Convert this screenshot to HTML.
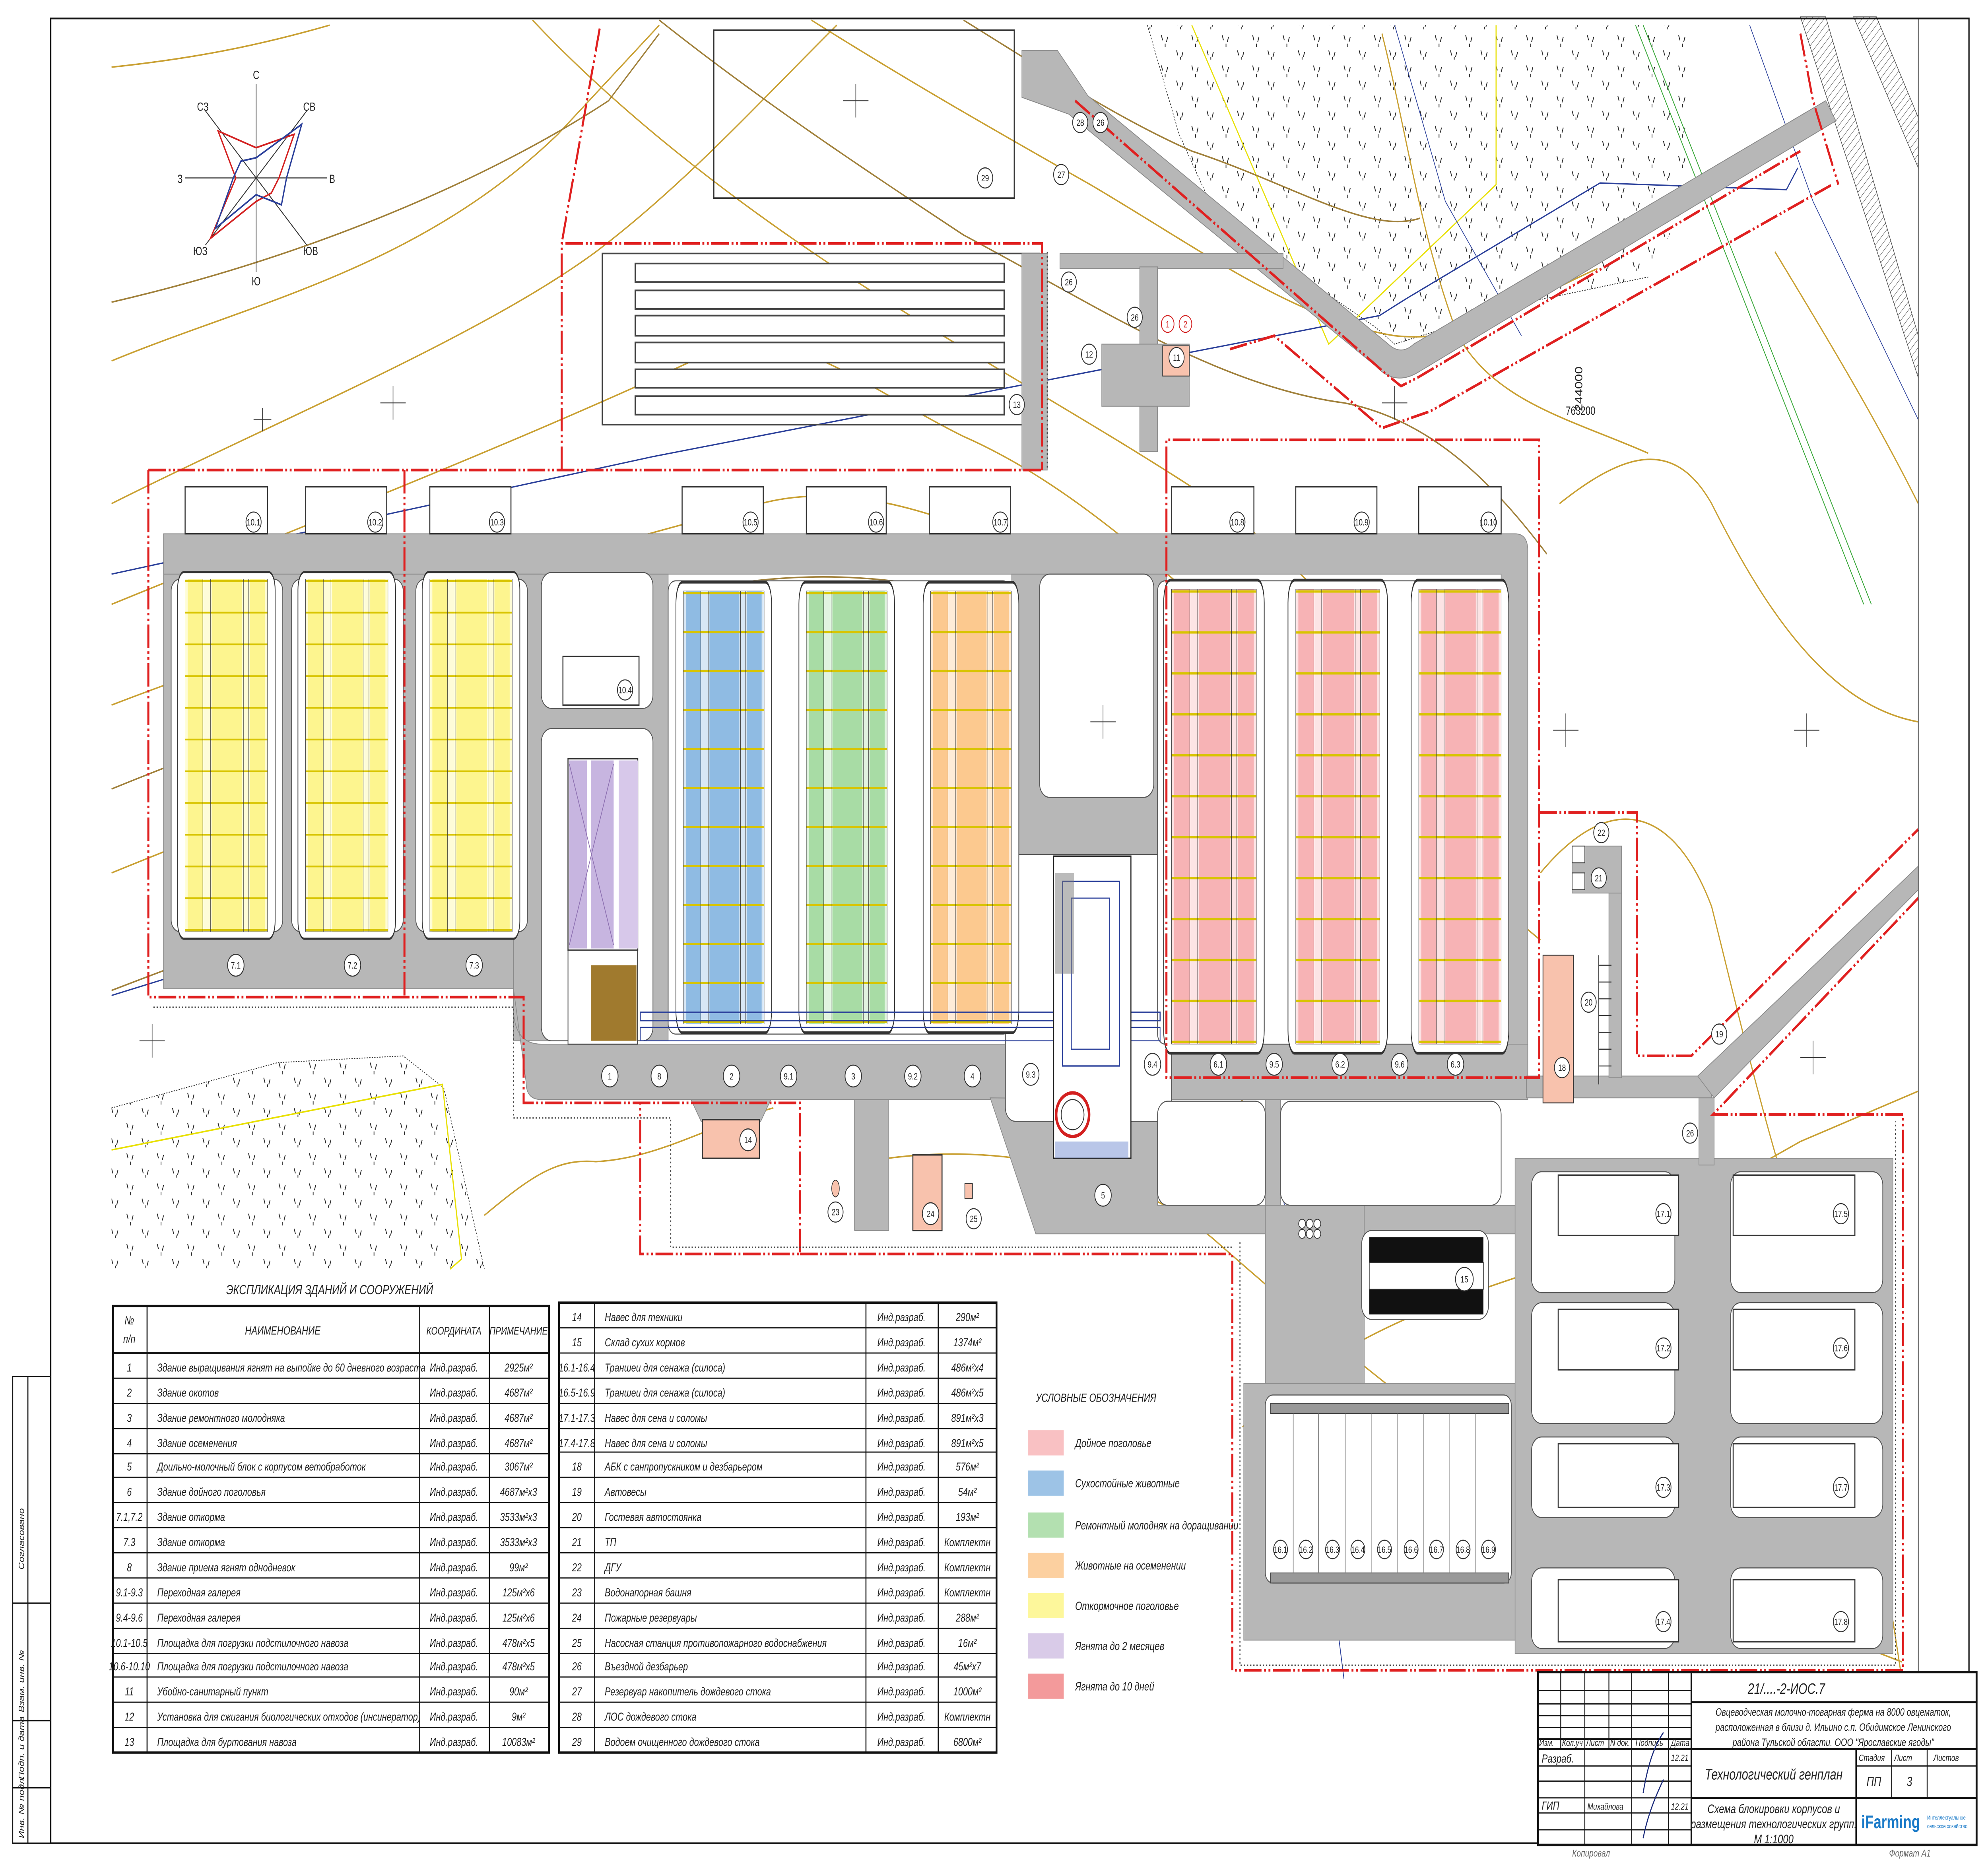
<!DOCTYPE html>
<html><head><meta charset="utf-8"><style>
html,body{margin:0;padding:0;background:#fff;overflow:hidden;width:100vw;height:100vh}
svg{display:block;position:absolute;left:0;top:0;width:100vw;height:100vh;overflow:hidden}
text{font-family:"Liberation Sans Narrow","Liberation Sans",sans-serif;fill:#222}
.t{font-size:7px;font-style:italic}
.c{font-size:5.5px;text-anchor:middle}
</style></head><body>
<svg xmlns="http://www.w3.org/2000/svg" viewBox="0 0 1568 1108" preserveAspectRatio="none">
<defs>
<pattern id="hl" width="10" height="9" patternUnits="userSpaceOnUse"><line x1="0" y1="0.5" x2="10" y2="0.5" stroke="#d8c400" stroke-width="0.5"/></pattern>
<pattern id="tree" width="24" height="18" patternUnits="userSpaceOnUse">
<path d="M4 3 l1 3 M9 4 l-1 3 M7 8 v2 M16 12 l1 3 M21 13 l-1 3 M19 16 v1.5" stroke="#222" stroke-width="0.6" fill="none"/></pattern>
<pattern id="hatch" width="5" height="5" patternUnits="userSpaceOnUse"><path d="M0 5 L5 0" stroke="#555" stroke-width="0.3"/></pattern>
<g id="bld">
<rect x="-6" y="-2" width="77" height="104" rx="5" fill="#fff" stroke="#333" stroke-width="0.6"/>
<rect x="0" y="0" width="65" height="100" fill="currentColor" opacity="0.35"/>
<rect x="2" y="0" width="12" height="100" fill="currentColor"/>
<rect x="21" y="0" width="24" height="100" fill="currentColor"/>
<rect x="51" y="0" width="12" height="100" fill="currentColor"/>
<rect x="0" y="0" width="65" height="100" fill="url(#hl)"/>
<g stroke="#333" stroke-width="0.9">
<line x1="0" y1="0" x2="0" y2="100" vector-effect="non-scaling-stroke"/><line x1="14" y1="0" x2="14" y2="100" vector-effect="non-scaling-stroke"/><line x1="20" y1="0" x2="20" y2="100" vector-effect="non-scaling-stroke"/><line x1="46" y1="0" x2="46" y2="100" vector-effect="non-scaling-stroke"/><line x1="50" y1="0" x2="50" y2="100" vector-effect="non-scaling-stroke"/><line x1="65" y1="0" x2="65" y2="100" vector-effect="non-scaling-stroke"/>
<line x1="0" y1="0" x2="65" y2="0" vector-effect="non-scaling-stroke"/><line x1="0" y1="100" x2="65" y2="100" vector-effect="non-scaling-stroke"/>
</g>
</g>
</defs>

<rect width="1568" height="1108" fill="#fff"/>

<!-- tree areas -->
<polygon points="905,15 1330,15 1330,120 1300,165 1205,180 1100,205 1085,195 960,130 930,80" fill="url(#tree)"/>
<polyline points="905,15 930,80 960,130 1085,195 1100,205 1205,180 1300,165" fill="none" stroke="#333" stroke-width="0.5" stroke-dasharray="1,1"/>
<polyline points="940,15 1048,205 1180,110 1180,15" fill="none" stroke="#e8e000" stroke-width="0.8"/>
<polygon points="88,660 219,633 318,629 350,648 382,756 88,756" fill="url(#tree)"/>
<polyline points="88,660 219,633 318,629 350,648 382,756" fill="none" stroke="#333" stroke-width="0.5" stroke-dasharray="1,1"/>
<polyline points="88,685 349,646 364,750 355,756" fill="none" stroke="#e8e000" stroke-width="0.9"/>

<!-- contours -->
<g fill="none" stroke="#c9a032" stroke-width="0.9">
<path d="M88,215 C200,180 330,160 440,80 L520,15"/>
<path d="M88,300 C220,250 380,200 470,150 C540,110 600,60 660,15"/>
<path d="M88,360 C250,310 420,260 560,210 C620,190 680,230 760,260 C880,300 960,380 1060,420"/>
<path d="M88,420 C260,370 450,330 600,300 C700,280 820,330 930,380 C1050,440 1150,520 1215,560"/>
<path d="M88,520 C250,470 430,420 600,380 C700,360 800,380 900,430 C1000,480 1100,560 1190,640"/>
<path d="M420,12 C480,60 560,110 660,160 C760,210 860,250 960,300 C1050,350 1120,420 1190,480"/>
<path d="M640,12 C720,50 790,80 860,110 C950,150 1020,190 1100,200 C1160,205 1200,180 1260,160"/>
<path d="M1230,300 C1280,270 1320,260 1350,300 C1390,360 1440,420 1513,430"/>
<path d="M1215,520 C1270,470 1320,480 1350,540 C1370,600 1400,700 1440,780 C1470,850 1490,950 1500,1000"/>
<path d="M980,850 C1050,800 1120,780 1200,760 C1280,740 1350,710 1420,680 L1513,650"/>
<path d="M700,690 C800,680 900,700 960,740 C1050,800 1150,860 1230,900 C1300,940 1400,960 1500,990"/>
<path d="M1090,20 C1110,80 1120,140 1150,200 C1180,240 1240,250 1300,270"/>
<path d="M382,724 C420,700 440,690 470,692 C520,690 560,670 610,660"/>
<path d="M88,40 C150,35 200,28 260,15"/>
<path d="M1400,150 C1440,200 1480,250 1513,300"/>
</g>
<g fill="none" stroke="#a0803a" stroke-width="0.9">
<path d="M88,180 C260,150 400,100 480,60 L520,20"/>
<path d="M88,470 C250,420 420,380 560,350 C700,330 820,360 920,400 C1020,450 1120,500 1200,600"/>
<path d="M88,590 C260,540 420,500 540,470 C650,450 760,470 830,520 C900,560 960,620 1010,700"/>
<path d="M520,12 C600,60 680,100 760,140 C860,180 960,230 1060,240 C1130,250 1180,290 1220,330"/>
<path d="M760,12 C820,40 880,70 940,90 C1020,110 1080,140 1120,130"/>
<path d="M1000,870 C1080,840 1140,820 1200,830 C1260,840 1320,820 1380,790"/>
</g>
<!-- blue lines -->
<polyline points="88,342 515,272 1088,188 1109,178 1262,109 1409,113 1418,100" fill="none" stroke="#2a3f9a" stroke-width="0.8"/>
<polyline points="88,593 400,520 797,485 990,445" fill="none" stroke="#2a3f9a" stroke-width="0.8"/>
<polyline points="984,455 1000,620 1010,700 1060,1000" fill="none" stroke="#2a3f9a" stroke-width="0.6"/>
<polyline points="1100,15 1140,120 1200,200" fill="none" stroke="#2a3f9a" stroke-width="0.5"/>
<polyline points="1380,15 1430,120 1513,250" fill="none" stroke="#2a3f9a" stroke-width="0.5"/>
<g stroke="#3aa83a" stroke-width="0.6"><line x1="1290" y1="15" x2="1470" y2="360"/><line x1="1296" y1="15" x2="1476" y2="360"/></g>

<!-- top-right railway band -->
<polygon points="1420,10 1440,10 1513,200 1513,225" fill="url(#hatch)" stroke="#444" stroke-width="0.4"/>
<polygon points="1462,10 1480,10 1513,70 1513,100" fill="url(#hatch)" stroke="#444" stroke-width="0.4"/>

<!-- 29 pond & 13 pile -->
<rect x="563" y="18" width="237" height="100" fill="none" stroke="#333" stroke-width="0.9"/>
<rect x="475" y="151" width="345" height="102" fill="none" stroke="#444" stroke-width="0.9"/>
<g fill="#fff" stroke="#444" stroke-width="1">
<rect x="501" y="157" width="291" height="11"/><rect x="501" y="173" width="291" height="11"/><rect x="501" y="188" width="291" height="12"/><rect x="501" y="204" width="291" height="12"/><rect x="501" y="220" width="291" height="11"/><rect x="501" y="236" width="291" height="11"/>
</g>

<!-- roads (gray) -->
<g fill="#b7b7b7" stroke="#8a8a8a" stroke-width="0.5">
<path d="M806,30 L834,30 L858,57 L1095,205 Q1105,212 1115,205 L1440,60 L1448,72 L1118,222 Q1100,230 1085,218 L843,68 L806,58 Z"/>
<rect x="836" y="151" width="176" height="9"/>
<rect x="806" y="151" width="20" height="129"/>
<rect x="899" y="159" width="14" height="110"/>
<rect x="869" y="205" width="69" height="37"/>
<path d="M129,318 L1195,318 Q1205,318 1205,328 L1205,655 L1184,655 L1184,342 L129,342 Z"/>
<rect x="129" y="342" width="298" height="247"/>
<rect x="405" y="342" width="122" height="278"/>
<path d="M405,589 L405,600 Q405,622 427,622 L1205,622 L1205,655 L427,655 Q415,655 415,645 Z"/>
<rect x="798" y="342" width="122" height="170"/>
<path d="M781,654 L817,735 L1200,735 L1200,718 L913,718 L913,655 Z"/>
<rect x="998" y="655" width="12" height="65"/>
<rect x="998" y="718" width="78" height="110"/>
<path d="M545,655 L608,655 L600,668 L553,668 Z"/>
<rect x="674" y="655" width="27" height="78"/>
<rect x="981" y="824" width="245" height="153"/>
<rect x="1195" y="690" width="298" height="295"/>
<rect x="1204" y="641" width="146" height="13"/>
<path d="M1339,641 L1513,516 L1513,530 L1352,654 Z"/>
<rect x="1340" y="654" width="12" height="40"/>
<rect x="1240" y="504" width="39" height="28"/>
<rect x="1269" y="532" width="10" height="110"/>
</g>
<!-- white holes -->
<g fill="#fff" stroke="#555" stroke-width="0.6">
<rect x="135" y="345" width="88" height="210" rx="7"/>
<rect x="230" y="345" width="88" height="210" rx="7"/>
<rect x="328" y="345" width="88" height="210" rx="7"/>
<rect x="427" y="341" width="88" height="81" rx="8"/>
<rect x="427" y="434" width="88" height="186" rx="8"/>
<rect x="527" y="346" width="270" height="270" rx="6"/>
<rect x="820" y="342" width="90" height="133" rx="8"/>
<rect x="793" y="509" width="131" height="159" rx="8"/>
<rect x="913" y="346" width="271" height="276" rx="6"/>
<rect x="913" y="656" width="85" height="62" rx="8"/>
<rect x="1010" y="656" width="174" height="62" rx="8"/>
<rect x="998" y="831" width="194" height="112" rx="6"/>
<rect x="1208" y="698" width="113" height="72" rx="8"/>
<rect x="1365" y="698" width="120" height="72" rx="8"/>
<rect x="1208" y="776" width="113" height="72" rx="8"/>
<rect x="1365" y="776" width="120" height="72" rx="8"/>
<rect x="1208" y="856" width="113" height="48" rx="8"/>
<rect x="1365" y="856" width="120" height="48" rx="8"/>
<rect x="1208" y="934" width="113" height="48" rx="8"/>
<rect x="1365" y="934" width="120" height="48" rx="8"/>
<rect x="1074" y="733" width="100" height="53" rx="8"/>
</g>

<!-- manure pads -->
<g fill="#fff" stroke="#333" stroke-width="0.8">
<rect x="146" y="290" width="65" height="28"/><rect x="241" y="290" width="64" height="28"/><rect x="339" y="290" width="64" height="28"/>
<rect x="538" y="290" width="64" height="28"/><rect x="636" y="290" width="63" height="28"/><rect x="733" y="290" width="64" height="28"/>
<rect x="924" y="290" width="65" height="28"/><rect x="1022" y="290" width="64" height="28"/><rect x="1119" y="290" width="65" height="28"/>
<rect x="444" y="391" width="60" height="29"/>
</g>

<!-- long buildings -->
<use href="#bld" transform="translate(146,345) scale(1,2.1)" style="color:#fdf58f"/>
<use href="#bld" transform="translate(241,345) scale(1,2.1)" style="color:#fdf58f"/>
<use href="#bld" transform="translate(339,345) scale(1,2.1)" style="color:#fdf58f"/>
<use href="#bld" transform="translate(539,352) scale(0.98,2.58)" style="color:#8fbbe3"/>
<use href="#bld" transform="translate(636,352) scale(0.98,2.58)" style="color:#a8dca5"/>
<use href="#bld" transform="translate(734,352) scale(0.98,2.58)" style="color:#fcc98f"/>
<use href="#bld" transform="translate(924,351) scale(1.03,2.71)" style="color:#f7b3b5"/>
<use href="#bld" transform="translate(1022,351) scale(1.02,2.71)" style="color:#f7b3b5"/>
<use href="#bld" transform="translate(1119,351) scale(1.0,2.71)" style="color:#f7b3b5"/>
<!-- building 1 (lambs) -->
<rect x="448" y="452" width="55" height="114" fill="#fff" stroke="#333" stroke-width="0.8"/>
<rect x="449" y="453" width="14" height="112" fill="#c7b5e0"/><rect x="466" y="453" width="18" height="112" fill="#c7b5e0"/><rect x="488" y="453" width="15" height="112" fill="#d7c8ea"/>
<path d="M449,455 L484,563 M484,455 L449,563" stroke="#8c6fb0" stroke-width="0.5"/>
<rect x="448" y="566" width="55" height="56" fill="#fff" stroke="#333" stroke-width="0.6"/>
<rect x="466" y="575" width="36" height="45" fill="#a07a2e"/>
<!-- bottom blue ribbon -->
<rect x="505" y="603" width="410" height="5" fill="none" stroke="#2a3f9a" stroke-width="0.8"/>
<rect x="505" y="612" width="410" height="8" fill="none" stroke="#2a3f9a" stroke-width="0.6"/>
<!-- block 5 -->
<rect x="831" y="510" width="61" height="180" fill="#fff" stroke="#222" stroke-width="0.8"/>
<rect x="838" y="525" width="45" height="110" fill="none" stroke="#2a3f9a" stroke-width="0.8"/>
<rect x="845" y="535" width="30" height="90" fill="none" stroke="#2a3f9a" stroke-width="0.6"/>
<rect x="832" y="520" width="15" height="60" fill="#777" opacity="0.5"/>
<circle cx="846" cy="664" r="13" fill="#fff" stroke="#d32020" stroke-width="2"/>
<circle cx="846" cy="664" r="9" fill="none" stroke="#333" stroke-width="0.6"/>
<rect x="832" y="680" width="58" height="10" fill="#8aa0d8" opacity="0.6"/>

<!-- small objects -->
<rect x="917" y="206" width="21" height="18" fill="#f8c2ad" stroke="#333" stroke-width="0.5"/>
<rect x="554" y="667" width="45" height="23" fill="#f8c2ad" stroke="#333" stroke-width="0.8"/>
<rect x="720" y="688" width="23" height="45" fill="#f8c2ad" stroke="#333" stroke-width="0.8"/>
<ellipse cx="659" cy="708" rx="3" ry="5" fill="#f8c2ad" stroke="#333" stroke-width="0.5"/>
<rect x="761" y="705" width="6" height="9" fill="#f8c2ad" stroke="#333" stroke-width="0.5"/>
<rect x="1217" y="569" width="24" height="88" fill="#f8c2ad" stroke="#333" stroke-width="0.6"/>
<g stroke="#333" stroke-width="0.6"><line x1="1261" y1="575" x2="1271" y2="575"/><line x1="1261" y1="585" x2="1271" y2="585"/><line x1="1261" y1="595" x2="1271" y2="595"/><line x1="1261" y1="605" x2="1271" y2="605"/><line x1="1261" y1="615" x2="1271" y2="615"/><line x1="1261" y1="625" x2="1271" y2="625"/><line x1="1261" y1="635" x2="1271" y2="635"/><line x1="1261" y1="569" x2="1261" y2="646"/></g>
<rect x="1240" y="504" width="10" height="10" fill="#fff" stroke="#333" stroke-width="0.5"/><rect x="1240" y="520" width="10" height="10" fill="#fff" stroke="#333" stroke-width="0.5"/>
<!-- 15 -->
<rect x="1080" y="737" width="90" height="15" fill="#111"/>
<rect x="1080" y="768" width="90" height="15" fill="#111"/>
<rect x="1080" y="752" width="90" height="16" fill="#fff" stroke="#333" stroke-width="0.5"/>
<g fill="#fff" stroke="#333" stroke-width="0.5"><circle cx="1027" cy="729" r="2.7"/><circle cx="1033" cy="729" r="2.7"/><circle cx="1039" cy="729" r="2.7"/><circle cx="1027" cy="735" r="2.7"/><circle cx="1033" cy="735" r="2.7"/><circle cx="1039" cy="735" r="2.7"/></g>
<!-- silo trenches -->
<rect x="1002" y="836" width="188" height="6" fill="#999" stroke="#444" stroke-width="0.5"/>
<rect x="1002" y="937" width="188" height="6" fill="#999" stroke="#444" stroke-width="0.5"/>
<g stroke="#777" stroke-width="0.5"><line x1="1020" y1="842" x2="1020" y2="937"/><line x1="1040" y1="842" x2="1040" y2="937"/><line x1="1061" y1="842" x2="1061" y2="937"/><line x1="1082" y1="842" x2="1082" y2="937"/><line x1="1102" y1="842" x2="1102" y2="937"/><line x1="1123" y1="842" x2="1123" y2="937"/><line x1="1143" y1="842" x2="1143" y2="937"/><line x1="1164" y1="842" x2="1164" y2="937"/></g>
<!-- hay sheds -->
<g fill="#fff" stroke="#333" stroke-width="0.8">
<rect x="1229" y="700" width="95" height="36"/><rect x="1367" y="700" width="96" height="36"/>
<rect x="1229" y="780" width="95" height="36"/><rect x="1367" y="780" width="96" height="36"/>
<rect x="1229" y="860" width="95" height="38"/><rect x="1367" y="860" width="96" height="38"/>
<rect x="1229" y="941" width="95" height="37"/><rect x="1367" y="941" width="96" height="37"/>
</g>

<!-- red boundaries -->
<g fill="none" stroke="#e02020" stroke-width="1.6" stroke-dasharray="14,2,1.5,2,1.5,2">
<polyline points="443,280 443,145 822,145 822,280"/>
<polyline points="117,280 822,280"/>
<polyline points="117,280 117,594 413,594 413,657 631,657 631,747 505,747 505,657"/>
<polyline points="319,280 319,594"/>
<polyline points="920,280 920,262 1214,262 1214,642 920,642 920,280"/>
<polyline points="631,747 972,747 972,995 1501,995 1501,664 1351,664 1513,535"/>
<polyline points="1214,484 1291,484 1291,629 1334,629 1513,494"/>
<polyline points="473,17 443,145"/>
<polyline points="848,60 1092,222 1105,230 1118,225 1420,90"/>
<polyline points="970,208 1005,200 1090,255 1128,245 1445,110"/>
<polyline points="1420,20 1430,60 1450,110"/>
</g>
<g fill="none" stroke="#444" stroke-width="0.8" stroke-dasharray="1,1.5">
<polyline points="121,600 405,600 405,666 529,666 529,743 972,743"/>
<polyline points="978,740 978,992 1495,992 1495,668"/>
<polyline points="826,150 826,280"/>
</g>

<!-- circle labels -->
<g fill="#fff" stroke="#333" stroke-width="0.6">
<circle cx="200" cy="311" r="6"/><circle cx="296" cy="311" r="6"/><circle cx="392" cy="311" r="6"/><circle cx="592" cy="311" r="6"/><circle cx="691" cy="311" r="6"/><circle cx="789" cy="311" r="6"/><circle cx="976" cy="311" r="6"/><circle cx="1074" cy="311" r="6"/><circle cx="1174" cy="311" r="6"/><circle cx="493" cy="411" r="6"/>
<circle cx="186" cy="575" r="6.5"/><circle cx="278" cy="575" r="6.5"/><circle cx="374" cy="575" r="6.5"/>
<circle cx="481" cy="641" r="6.5"/><circle cx="520" cy="641" r="6.5"/><circle cx="577" cy="641" r="6.5"/><circle cx="622" cy="641" r="6.5"/><circle cx="673" cy="641" r="6.5"/><circle cx="720" cy="641" r="6.5"/><circle cx="767" cy="641" r="6.5"/>
<circle cx="813" cy="640" r="6.5"/><circle cx="909" cy="634" r="6.5"/><circle cx="961" cy="634" r="6.5"/><circle cx="1005" cy="634" r="6.5"/><circle cx="1057" cy="634" r="6.5"/><circle cx="1104" cy="634" r="6.5"/><circle cx="1148" cy="634" r="6.5"/>
<circle cx="870" cy="712" r="6.5"/><circle cx="590" cy="679" r="6.5"/><circle cx="659" cy="722" r="6"/><circle cx="734" cy="723" r="6.5"/><circle cx="768" cy="726" r="6"/><circle cx="1155" cy="762" r="7"/>
<circle cx="1263" cy="496" r="6"/><circle cx="1261" cy="523" r="6"/><circle cx="1253" cy="597" r="6"/><circle cx="1232" cy="636" r="6"/><circle cx="1333" cy="675" r="6"/><circle cx="1356" cy="616" r="6"/>
<circle cx="777" cy="106" r="6"/><circle cx="837" cy="104" r="6"/><circle cx="852" cy="73" r="6"/><circle cx="868" cy="73" r="6"/><circle cx="843" cy="168" r="6"/><circle cx="895" cy="189" r="6"/><circle cx="859" cy="211" r="6"/><circle cx="802" cy="241" r="6"/><circle cx="928" cy="213" r="6"/>
<circle cx="1010" cy="923" r="5.5"/><circle cx="1030" cy="923" r="5.5"/><circle cx="1051" cy="923" r="5.5"/><circle cx="1071" cy="923" r="5.5"/><circle cx="1092" cy="923" r="5.5"/><circle cx="1113" cy="923" r="5.5"/><circle cx="1133" cy="923" r="5.5"/><circle cx="1154" cy="923" r="5.5"/><circle cx="1174" cy="923" r="5.5"/>
<circle cx="1312" cy="723" r="6"/><circle cx="1452" cy="723" r="6"/><circle cx="1312" cy="803" r="6"/><circle cx="1452" cy="803" r="6"/><circle cx="1312" cy="886" r="6"/><circle cx="1452" cy="886" r="6"/><circle cx="1312" cy="966" r="6"/><circle cx="1452" cy="966" r="6"/>
</g>
<circle cx="921" cy="193" r="5" fill="none" stroke="#d32020" stroke-width="0.6"/><circle cx="935" cy="193" r="5" fill="none" stroke="#d32020" stroke-width="0.6"/>
<g class="c">
<text x="200" y="313" class="c">10.1</text><text x="296" y="313" class="c">10.2</text><text x="392" y="313" class="c">10.3</text><text x="592" y="313" class="c">10.5</text><text x="691" y="313" class="c">10.6</text><text x="789" y="313" class="c">10.7</text><text x="976" y="313" class="c">10.8</text><text x="1074" y="313" class="c">10.9</text><text x="1174" y="313" class="c">10.10</text><text x="493" y="413" class="c">10.4</text>
<text x="186" y="577" class="c">7.1</text><text x="278" y="577" class="c">7.2</text><text x="374" y="577" class="c">7.3</text>
<text x="481" y="643" class="c">1</text><text x="520" y="643" class="c">8</text><text x="577" y="643" class="c">2</text><text x="622" y="643" class="c">9.1</text><text x="673" y="643" class="c">3</text><text x="720" y="643" class="c">9.2</text><text x="767" y="643" class="c">4</text>
<text x="813" y="642" class="c">9.3</text><text x="909" y="636" class="c">9.4</text><text x="961" y="636" class="c">6.1</text><text x="1005" y="636" class="c">9.5</text><text x="1057" y="636" class="c">6.2</text><text x="1104" y="636" class="c">9.6</text><text x="1148" y="636" class="c">6.3</text>
<text x="870" y="714" class="c">5</text><text x="590" y="681" class="c">14</text><text x="659" y="724" class="c">23</text><text x="734" y="725" class="c">24</text><text x="768" y="728" class="c">25</text><text x="1155" y="764" class="c">15</text>
<text x="1263" y="498" class="c">22</text><text x="1261" y="525" class="c">21</text><text x="1253" y="599" class="c">20</text><text x="1232" y="638" class="c">18</text><text x="1333" y="677" class="c">26</text><text x="1356" y="618" class="c">19</text>
<text x="777" y="108" class="c">29</text><text x="837" y="106" class="c">27</text><text x="852" y="75" class="c">28</text><text x="868" y="75" class="c">26</text><text x="843" y="170" class="c">26</text><text x="895" y="191" class="c">26</text><text x="859" y="213" class="c">12</text><text x="802" y="243" class="c">13</text><text x="928" y="215" class="c">11</text><text x="921" y="195" class="c" style="fill:#d32020">1</text><text x="935" y="195" class="c" style="fill:#d32020">2</text>
<text x="1010" y="925" class="c">16.1</text><text x="1030" y="925" class="c">16.2</text><text x="1051" y="925" class="c">16.3</text><text x="1071" y="925" class="c">16.4</text><text x="1092" y="925" class="c">16.5</text><text x="1113" y="925" class="c">16.6</text><text x="1133" y="925" class="c">16.7</text><text x="1154" y="925" class="c">16.8</text><text x="1174" y="925" class="c">16.9</text>
<text x="1312" y="725" class="c">17.1</text><text x="1452" y="725" class="c">17.5</text><text x="1312" y="805" class="c">17.2</text><text x="1452" y="805" class="c">17.6</text><text x="1312" y="888" class="c">17.3</text><text x="1452" y="888" class="c">17.7</text><text x="1312" y="968" class="c">17.4</text><text x="1452" y="968" class="c">17.8</text>
</g>
<text x="1248" y="245" style="font-size:8px" transform="rotate(-90 1248 245)">244000</text>
<text x="1235" y="247" style="font-size:7px">763200</text>
<!-- survey crosses -->
<g stroke="#333" stroke-width="0.5">
<path d="M110,620 h20 M120,610 v20 M300,240 h20 M310,230 v20 M860,430 h20 M870,420 v20 M1225,435 h20 M1235,425 v20 M1415,435 h20 M1425,425 v20 M1420,630 h20 M1430,620 v20 M1090,240 h20 M1100,230 v20 M665,60 h20 M675,50 v20 M200,250 h14 M207,243 v14"/>
</g>

<!-- compass -->
<g stroke="#333" stroke-width="0.6" fill="none">
<line x1="202" y1="50" x2="202" y2="162"/><line x1="146" y1="106" x2="258" y2="106"/><line x1="162" y1="66" x2="242" y2="146"/><line x1="242" y1="66" x2="162" y2="146"/>
</g>
<polygon points="202,88 232,80 220,106 214,115 202,120 166,142 186,106 172,78" fill="none" stroke="#d32020" stroke-width="1"/>
<polygon points="202,94 238,74 226,106 222,122 202,116 170,136 184,106 190,96" fill="none" stroke="#2a3f9a" stroke-width="1"/>
<g style="font-size:7px" text-anchor="middle"><text x="202" y="47">С</text><text x="244" y="66">СВ</text><text x="262" y="109">В</text><text x="245" y="152">ЮВ</text><text x="202" y="170">Ю</text><text x="158" y="152">ЮЗ</text><text x="142" y="109">З</text><text x="160" y="66">СЗ</text></g>

<!-- frame -->
<rect x="40" y="11" width="1513" height="1087" fill="none" stroke="#111" stroke-width="1"/>
<line x1="1513" y1="11" x2="1513" y2="996" stroke="#111" stroke-width="0.5"/>
<g stroke="#111" stroke-width="0.8" fill="none">
<rect x="10" y="820" width="30" height="278"/><line x1="22" y1="820" x2="22" y2="1098"/>
<line x1="10" y1="955" x2="40" y2="955"/><line x1="10" y1="1025" x2="40" y2="1025"/><line x1="10" y1="1065" x2="40" y2="1065"/>
</g>
<g style="font-size:6px;font-style:italic">
<text transform="translate(19,935) rotate(-90)">Согласовано</text>
<text transform="translate(19,1095) rotate(-90)">Инв. № подл.</text>
<text transform="translate(19,1060) rotate(-90)">Подп. и дата</text>
<text transform="translate(19,1020) rotate(-90)">Взам. инв. №</text>
</g>

<!-- explication -->
<text x="260" y="771" text-anchor="middle" class="t" style="font-size:8px">ЭКСПЛИКАЦИЯ ЗДАНИЙ И СООРУЖЕНИЙ</text>
<g fill="none" stroke="#111">
<rect x="89" y="778" width="344" height="266" stroke-width="1.4"/>
<path stroke-width="0.8" d="M116,778V1044M331,778V1044M386,778V1044"/>
<path stroke-width="1.4" d="M89,806H433"/>
<path stroke-width="0.7" d="M89,821H433M89,836H433M89,851H433M89,866H433M89,880H433M89,895H433M89,910H433M89,925H433M89,940H433M89,955H433M89,970H433M89,985H433M89,999H433M89,1014H433M89,1029H433"/>
<rect x="441" y="776" width="345" height="268" stroke-width="1.4"/>
<path stroke-width="0.8" d="M469,776V1044M683,776V1044M740,776V1044"/>
<path stroke-width="0.7" d="M441,791H786M441,806H786M441,821H786M441,836H786M441,851H786M441,865H786M441,880H786M441,895H786M441,910H786M441,925H786M441,940H786M441,955H786M441,970H786M441,985H786M441,999H786M441,1014H786M441,1029H786"/>
</g>
<g class="t">
<text x="102" y="789" text-anchor="middle">№</text><text x="102" y="800" text-anchor="middle">п/п</text>
<text x="223" y="795" text-anchor="middle">НАИМЕНОВАНИЕ</text><text x="358" y="795" text-anchor="middle" style="font-size:6.5px">КООРДИНАТА</text><text x="409" y="795" text-anchor="middle" style="font-size:6.5px">ПРИМЕЧАНИЕ</text>
</g>
<g class="t" style="font-size:6.8px">
<g text-anchor="middle">
<text x="102" y="817">1</text><text x="102" y="832">2</text><text x="102" y="847">3</text><text x="102" y="862">4</text><text x="102" y="876">5</text><text x="102" y="891">6</text><text x="102" y="906">7.1,7.2</text><text x="102" y="921">7.3</text><text x="102" y="936">8</text><text x="102" y="951">9.1-9.3</text><text x="102" y="966">9.4-9.6</text><text x="102" y="981">10.1-10.5</text><text x="102" y="995">10.6-10.10</text><text x="102" y="1010">11</text><text x="102" y="1025">12</text><text x="102" y="1040">13</text>
</g>
<g>
<text x="124" y="817">Здание выращивания ягнят на выпойке до 60 дневного возраста</text>
<text x="124" y="832">Здание окотов</text><text x="124" y="847">Здание ремонтного молодняка</text><text x="124" y="862">Здание осеменения</text>
<text x="124" y="876">Доильно-молочный блок с корпусом ветобработок</text><text x="124" y="891">Здание дойного поголовья</text>
<text x="124" y="906">Здание откорма</text><text x="124" y="921">Здание откорма</text><text x="124" y="936">Здание приема ягнят однодневок</text>
<text x="124" y="951">Переходная галерея</text><text x="124" y="966">Переходная галерея</text>
<text x="124" y="981">Площадка для погрузки подстилочного навоза</text><text x="124" y="995">Площадка для погрузки подстилочного навоза</text>
<text x="124" y="1010">Убойно-санитарный пункт</text><text x="124" y="1025">Установка для сжигания биологических отходов (инсинератор)</text><text x="124" y="1040">Площадка для буртования навоза</text>
</g>
<g text-anchor="middle">
<text x="358" y="817">Инд.разраб.</text><text x="358" y="832">Инд.разраб.</text><text x="358" y="847">Инд.разраб.</text><text x="358" y="862">Инд.разраб.</text><text x="358" y="876">Инд.разраб.</text><text x="358" y="891">Инд.разраб.</text><text x="358" y="906">Инд.разраб.</text><text x="358" y="921">Инд.разраб.</text><text x="358" y="936">Инд.разраб.</text><text x="358" y="951">Инд.разраб.</text><text x="358" y="966">Инд.разраб.</text><text x="358" y="981">Инд.разраб.</text><text x="358" y="995">Инд.разраб.</text><text x="358" y="1010">Инд.разраб.</text><text x="358" y="1025">Инд.разраб.</text><text x="358" y="1040">Инд.разраб.</text>
<text x="409" y="817">2925м²</text><text x="409" y="832">4687м²</text><text x="409" y="847">4687м²</text><text x="409" y="862">4687м²</text><text x="409" y="876">3067м²</text><text x="409" y="891">4687м²х3</text><text x="409" y="906">3533м²х3</text><text x="409" y="921">3533м²х3</text><text x="409" y="936">99м²</text><text x="409" y="951">125м²х6</text><text x="409" y="966">125м²х6</text><text x="409" y="981">478м²х5</text><text x="409" y="995">478м²х5</text><text x="409" y="1010">90м²</text><text x="409" y="1025">9м²</text><text x="409" y="1040">10083м²</text>
</g>
<g text-anchor="middle">
<text x="455" y="787">14</text><text x="455" y="802">15</text><text x="455" y="817">16.1-16.4</text><text x="455" y="832">16.5-16.9</text><text x="455" y="847">17.1-17.3</text><text x="455" y="862">17.4-17.8</text><text x="455" y="876">18</text><text x="455" y="891">19</text><text x="455" y="906">20</text><text x="455" y="921">21</text><text x="455" y="936">22</text><text x="455" y="951">23</text><text x="455" y="966">24</text><text x="455" y="981">25</text><text x="455" y="995">26</text><text x="455" y="1010">27</text><text x="455" y="1025">28</text><text x="455" y="1040">29</text>
</g>
<g>
<text x="477" y="787">Навес для техники</text><text x="477" y="802">Склад сухих кормов</text><text x="477" y="817">Траншеи для сенажа (силоса)</text><text x="477" y="832">Траншеи для сенажа (силоса)</text><text x="477" y="847">Навес для сена и соломы</text><text x="477" y="862">Навес для сена и соломы</text><text x="477" y="876">АБК с санпропускником и дезбарьером</text><text x="477" y="891">Автовесы</text><text x="477" y="906">Гостевая автостоянка</text><text x="477" y="921">ТП</text><text x="477" y="936">ДГУ</text><text x="477" y="951">Водонапорная башня</text><text x="477" y="966">Пожарные резервуары</text><text x="477" y="981">Насосная станция противопожарного водоснабжения</text><text x="477" y="995">Въездной дезбарьер</text><text x="477" y="1010">Резервуар накопитель дождевого стока</text><text x="477" y="1025">ЛОС дождевого стока</text><text x="477" y="1040">Водоем очищенного дождевого стока</text>
</g>
<g text-anchor="middle">
<text x="711" y="787">Инд.разраб.</text><text x="711" y="802">Инд.разраб.</text><text x="711" y="817">Инд.разраб.</text><text x="711" y="832">Инд.разраб.</text><text x="711" y="847">Инд.разраб.</text><text x="711" y="862">Инд.разраб.</text><text x="711" y="876">Инд.разраб.</text><text x="711" y="891">Инд.разраб.</text><text x="711" y="906">Инд.разраб.</text><text x="711" y="921">Инд.разраб.</text><text x="711" y="936">Инд.разраб.</text><text x="711" y="951">Инд.разраб.</text><text x="711" y="966">Инд.разраб.</text><text x="711" y="981">Инд.разраб.</text><text x="711" y="995">Инд.разраб.</text><text x="711" y="1010">Инд.разраб.</text><text x="711" y="1025">Инд.разраб.</text><text x="711" y="1040">Инд.разраб.</text>
<text x="763" y="787">290м²</text><text x="763" y="802">1374м²</text><text x="763" y="817">486м²х4</text><text x="763" y="832">486м²х5</text><text x="763" y="847">891м²х3</text><text x="763" y="862">891м²х5</text><text x="763" y="876">576м²</text><text x="763" y="891">54м²</text><text x="763" y="906">193м²</text><text x="763" y="921">Комплектн</text><text x="763" y="936">Комплектн</text><text x="763" y="951">Комплектн</text><text x="763" y="966">288м²</text><text x="763" y="981">16м²</text><text x="763" y="995">45м²х7</text><text x="763" y="1010">1000м²</text><text x="763" y="1025">Комплектн</text><text x="763" y="1040">6800м²</text>
</g>
</g>

<!-- legend -->
<text x="817" y="835" class="t">УСЛОВНЫЕ ОБОЗНАЧЕНИЯ</text>
<rect x="811" y="852" width="28" height="15" fill="#f9c1c3"/>
<rect x="811" y="876" width="28" height="15" fill="#9dc3e6"/>
<rect x="811" y="901" width="28" height="15" fill="#b3e0b0"/>
<rect x="811" y="925" width="28" height="15" fill="#fcd0a0"/>
<rect x="811" y="949" width="28" height="15" fill="#fdf79b"/>
<rect x="811" y="973" width="28" height="15" fill="#d9cbe8"/>
<rect x="811" y="997" width="28" height="15" fill="#f39a9b"/>
<g class="t"><text x="848" y="862">Дойное поголовье</text><text x="848" y="886">Сухостойные животные</text><text x="848" y="911">Ремонтный молодняк на доращивании</text><text x="848" y="935">Животные на осеменении</text><text x="848" y="959">Откормочное поголовье</text><text x="848" y="983">Ягнята до 2 месяцев</text><text x="848" y="1007">Ягнята до 10 дней</text></g>

<!-- title block -->
<g fill="none" stroke="#111">
<rect x="1213" y="996" width="346" height="103" fill="#fff" stroke-width="1.5"/>
<path stroke-width="1.2" d="M1334,996V1099M1213,1042H1559M1334,1014H1559M1334,1071H1559M1464,1042V1099M1213,1036H1334"/>
<path stroke-width="0.7" d="M1231,996V1042M1250,996V1099M1269,996V1042M1287,996V1099M1316,996V1099M1213,1007H1334M1213,1015H1334M1213,1022H1334M1213,1029H1334M1213,1052H1334M1213,1061H1334M1213,1080H1334M1213,1090H1334M1213,1071H1334M1464,1052H1559M1492,1042V1071M1520,1042V1071"/>
</g>
<text x="1409" y="1009" text-anchor="middle" class="t" style="font-size:9px">21/....-2-ИОС.7</text>
<g class="t" style="font-size:6.3px" text-anchor="middle">
<text x="1446" y="1022">Овцеводческая молочно-товарная ферма на 8000 овцематок,</text>
<text x="1446" y="1031">расположенная в близи д. Ильино с.п. Обидимское Ленинского</text>
<text x="1446" y="1040">района Тульской области. ООО "Ярославские ягоды"</text>
</g>
<g class="t" style="font-size:5.5px">
<text x="1214" y="1040">Изм.</text><text x="1232" y="1040">Кол.уч</text><text x="1251" y="1040">Лист</text><text x="1270" y="1040">N док.</text><text x="1290" y="1040">Подпись</text><text x="1318" y="1040">Дата</text>
<text x="1216" y="1050" style="font-size:7px">Разраб.</text><text x="1318" y="1049">12.21</text>
<text x="1216" y="1078" style="font-size:7px">ГИП</text><text x="1252" y="1078">Михайлова</text><text x="1318" y="1078">12.21</text>
<text x="1466" y="1049">Стадия</text><text x="1494" y="1049">Лист</text><text x="1525" y="1049">Листов</text>
</g>
<path d="M1296,1068 C1300,1050 1305,1040 1312,1032 M1296,1095 C1300,1080 1306,1070 1312,1060" stroke="#1a2a7a" stroke-width="0.8" fill="none"/>
<text x="1399" y="1060" text-anchor="middle" class="t" style="font-size:9px">Технологический генплан</text>
<text x="1478" y="1064" text-anchor="middle" class="t" style="font-size:8px">ПП</text><text x="1506" y="1064" text-anchor="middle" class="t" style="font-size:8px">3</text>
<g class="t" style="font-size:7.5px" text-anchor="middle"><text x="1399" y="1080">Схема блокировки корпусов и</text><text x="1399" y="1089">размещения технологических групп.</text><text x="1399" y="1098">М 1:1000</text></g>
<text x="1468" y="1089" style="font-size:11px;font-weight:bold;fill:#1a7ac8">iFarming</text>
<text x="1520" y="1084" style="font-size:3.5px;fill:#1a7ac8">Интеллектуальное</text><text x="1520" y="1089" style="font-size:3.5px;fill:#1a7ac8">сельское хозяйство</text>
<text x="1240" y="1106" class="t" style="font-size:6px;fill:#666">Копировал</text><text x="1490" y="1106" class="t" style="font-size:6px;fill:#666">Формат А1</text>
</svg>
</body></html>
